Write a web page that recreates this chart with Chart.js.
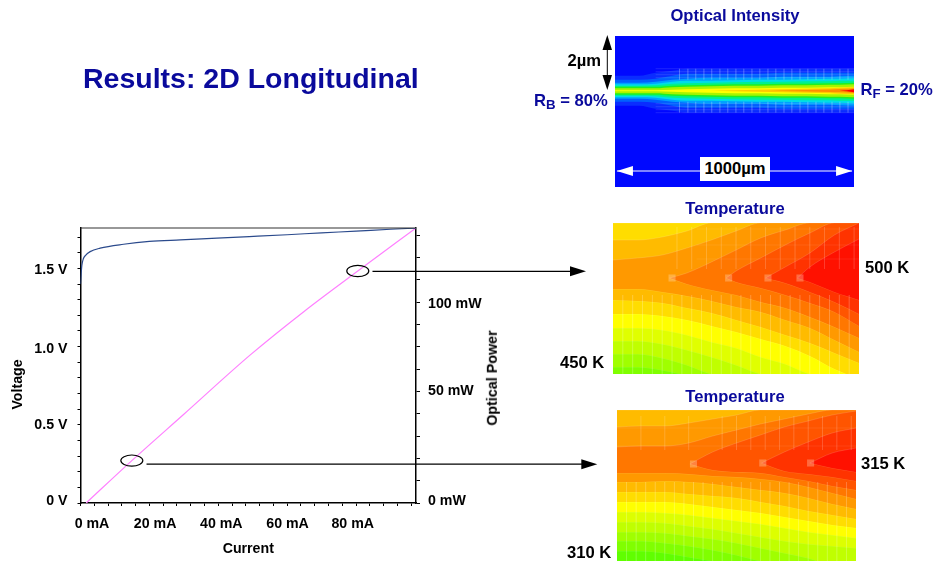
<!DOCTYPE html>
<html><head><meta charset="utf-8">
<script src="https://cdn.jsdelivr.net/npm/chart.js@4"></script>
<style>
html,body{margin:0;padding:0;background:#fff;overflow:hidden}
#page{position:relative;width:937px;height:566px;font-family:"Liberation Sans",Arial,sans-serif;font-weight:bold}
canvas{position:absolute}
.t{position:absolute;white-space:nowrap;line-height:1;transform:translateY(-50%);color:#000;font-size:16.6px}
.b{color:#0A0A9C}
.c{transform:translate(-50%,-50%)}
sub{font-size:.8em;line-height:0;vertical-align:-.28em}
</style></head>
<body><div id="page">
<canvas id="main" width="937" height="566" style="left:0;top:0;width:937px;height:566px"></canvas>
<canvas id="opt" width="239" height="151" style="left:615px;top:36px;width:239px;height:151px"></canvas>
<canvas id="t1" width="246" height="151" style="left:613px;top:223px;width:246px;height:151px"></canvas>
<canvas id="t2" width="239" height="151" style="left:617px;top:410px;width:239px;height:151px"></canvas>

<div class="t b" style="left:83px;top:78px;font-size:28.5px">Results: 2D Longitudinal</div>
<div class="t b c" style="left:735px;top:16px">Optical Intensity</div>
<div class="t b c" style="left:735px;top:209px">Temperature</div>
<div class="t b c" style="left:735px;top:397px">Temperature</div>
<div class="t" style="left:567.5px;top:61px">2µm</div>
<div class="t b" style="left:534px;top:101px">R<sub>B</sub> = 80%</div>
<div class="t b" style="left:860.5px;top:90px">R<sub>F</sub> = 20%</div>
<div class="t c" style="left:735px;top:169px;background:#fff;width:70px;height:24px;line-height:24px;text-align:center">1000µm</div>
<div class="t" style="left:560px;top:363px">450 K</div>
<div class="t" style="left:865px;top:268px">500 K</div>
<div class="t" style="left:567px;top:553px">310 K</div>
<div class="t" style="left:861px;top:464px">315 K</div>
<div class="t c" style="left:492px;top:378px;font-size:14.3px;transform:translate(-50%,-50%) rotate(-90deg)">Optical Power</div>
</div>
<script>
// ---------- L-I-V curves ----------
const voltageCurrent = [0, 0.2, 0.4, 0.8, 1.4, 2.8, 5.7, 12.5, 20, 29, 39.6, 49, 60, 70, 80, 90, 97.4];
const voltageValues  = [1.40, 1.47, 1.52, 1.56, 1.582, 1.607, 1.629, 1.654, 1.672, 1.682, 1.693, 1.703, 1.715, 1.727, 1.738, 1.75, 1.757];
const powerCurrent = [1.65, 14.9, 30, 49.3, 65, 80.5, 97.4];
const powerValues  = [0, 19, 39.8, 66.4, 86, 104, 123.3];
const currentTickLabels = {0:'0 mA', 20:'20 mA', 40:'40 mA', 60:'60 mA', 80:'80 mA'};
const voltageTickLabels = {0:'0 V', 0.5:'0.5 V', 1:'1.0 V', 1.5:'1.5 V'};
const powerTickLabels   = {0:'0 mW', 50:'50 mW', 90:'100 mW'};
const currentLabelNudge = {0:11.5, 20:5.7, 40:3, 60:0.4, 80:-3.3};
const voltageLabelNudge = {0:-2, 0.5:0, 1:3, 1.5:2};
const powerLabelNudge   = {0:-2, 50:0, 90:1.5};
const calloutCurrent = [14.9, 80.5];
const calloutPower   = [19, 104];
const calloutLineDrop = [3.6, 0.3];
const calloutTipX    = [597.3, 586];

// ---------- Optical intensity: half-width of each level around the ridge ----------
const ridgeDepth = 54.7;
const optX = [0, 10, 17, 24, 30, 40, 50, 60, 70, 80, 90, 94, 100];
const optColors = ['#0A2CFF','#0060FF','#00A0FF','#00DCE8','#00F090','#20F020','#A8F400','#FFFF00','#FFC800','#FF8C00','#FF0000'];
const optHalf = [
 [15,15,18,20,22,22,22,22,22,22,22,22,22],
 [11,11,12,15,17,17,17,17,18,18,18,18,18],
 [8,8,9,11,12,13,13,13,14,14,14,14.5,15],
 [6.5,6.5,7,9,10,10,10.5,11,11,11.5,12,12,12.5],
 [5,5,5.5,7,7.5,8,8.5,9,9,9.5,9.5,10,10],
 [4,4,4,5,5.5,6,6.5,6.5,7,7,7.5,7.5,8],
 [2.5,2.5,2.5,3.5,4,4.5,5,5,5.5,5.5,6,6,6.5],
 [0.5,0.5,0.5,1,1.5,2,2.5,2.5,3,3,3.5,3.5,4],
 [0,0,0,0,0,0,0.5,1,1.5,2,2.5,3,3.5],
 [0,0,0,0,0,0,0,0,0.3,0.7,1.2,1.6,2.2],
 [0,0,0,0,0,0,0,0,0,0,0,0,1.5]
];
const optMeshX = [27,30.5,33.8,37.2,40.5,43.9,47.2,50.6,53.9,57.3,60.6,64,67.3,70.7,74,77.4,80.7,84.1,87.4,90.8,94.1,97.5];
const optMeshH = [-22,-19,-16,-13,13,16,19,22];

// ---------- Temperature map 1: contour levels, coolest first ----------
const G = [0,10,20,30,40,50,60,70,80,90,100];
const t1Colors = ['#80FF00','#A0FF00','#C0FF00','#E0FF00','#FFFF00','#FFDD00','#FFBB00','#FF9900','#FF7700','#FF5500','#FF3300','#FF1100'];
const t1X = [[0,100],G,G,G,G,G,G,G,[23,30,40,50,60,70,80,90,100],[46,50,60,70,80,90,100],[62,70,80,90,100],[75,80,90,100]];
const t1Up = [
 [0,0],
 [0,0,0,0,0,0,0,0,0,0,0],[0,0,0,0,0,0,0,0,0,0,0],[0,0,0,0,0,0,0,0,0,0,0],[0,0,0,0,0,0,0,0,0,0,0],[0,0,0,0,0,0,0,0,0,0,0],
 [17,17,14,8,0,0,0,0,0,0,0],
 [37,35,32,25,17,8,0,0,0,0,0],
 [55,50,39,27,15,7,0,0,0],
 [55,48,35,22,10,0,0],
 [55,44,30,12,0],
 [55,44,29,16]
];
const t1Lo = [
 [155,155],
 [144,144,147,152,155,155,155,155,155,155,155],
 [131,131,135,142,151,155,155,155,155,155,155],
 [118,118,121,127,134,142,151,155,155,155,155],
 [105,105,107,112,119,125,134,141,151,155,155],
 [91,91,93,97,103,109,116,123,133,146,156],
 [77,78,80,85,90,97,104,112,120,130,140],
 [66,66,69,73,78,84,89,97,105,117,129],
 [55,61,67,72,79,85,94,104,115],
 [55,59,65,72,80,89,103],
 [55,60,69,79,91],
 [55,59,69,77]
];
const t1MeshX = [4,8,12,16,20,24,28,32,36,40,44,48,52,56,60,64,68,72,76,80,84,88,92,96];
const t1SeamX = [24,47,63,76];
const t1SeamY = [55,55,55,55];

// ---------- Temperature map 2: contour levels, coolest first ----------
const t2Colors = ['#60FF00','#80FF00','#A0FF00','#C0FF00','#DDFF00','#FFFF00','#FFDD00','#FFBB00','#FF9900','#FF7700','#FF5500','#FF3300','#FF1100'];
const t2X = [[0,100],G,G,G,G,G,G,G,G,G,[30.5,40,50,60,70,80,90,100],[60.5,70,80,90,100],[80.7,90,100]];
const t2Up = [
 [0,0],
 [0,0,0,0,0,0,0,0,0,0,0],[0,0,0,0,0,0,0,0,0,0,0],[0,0,0,0,0,0,0,0,0,0,0],[0,0,0,0,0,0,0,0,0,0,0],[0,0,0,0,0,0,0,0,0,0,0],[0,0,0,0,0,0,0,0,0,0,0],
 [0,0,0,0,0,0,0,0,0,0,0],
 [17,16,16,13,9,5,0,0,0,0,0],
 [37,36,36,33,26,20,14,9,4,0,0],
 [54,42,33,25,17,11,5,1],
 [53,42,32,23,18],
 [53,43,38]
];
const t2Lo = [
 [155,155],
 [141,141,143,147,151,155,155,155,155,155,155],
 [131,131,133,136,140,145,151,155,155,155,155],
 [122,122,123,126,129,133,138,143,148,155,155],
 [112,112,113,116,119,123,127,131,134,136,138],
 [102,102,103,105,108,111,114,118,122,125,128],
 [92,92,92,94,97,100,103,107,111,115,118],
 [82,82,82,84,86,88,92,96,101,105,109],
 [72,72,71,72,74,77,80,83,88,94,99],
 [63,63,63,64,66,67,69,72,77,83,89],
 [54,60,62,63,67,71,76,80],
 [53,61,64,67,71],
 [53,58,62]
];
const t2MeshX = [4,8,12,16,20,24,28,32,36,40,44,48,52,56,60,64,68,72,76,80,84,88,92,96];
const t2SeamX = [32,61,81];
const t2SeamY = [54,53,53];

// ---------- helpers ----------
function pts(xs, ys){ return xs.map((x,i)=>({x, y:ys[i]})); }
function levelDatasets(colors, xs, ups, los, edge){
  const out = [];
  for(let i = colors.length-1; i >= 0; i--){   // hottest first: Chart.js paints the last dataset first
    out.push({data:pts(xs[i],ups[i]), fill:'+1', backgroundColor:colors[i], borderColor:edge, borderWidth:i?0.7:0, pointRadius:0, cubicInterpolationMode:'monotone'});
    out.push({data:pts(xs[i],los[i]), fill:false, borderColor:edge, borderWidth:i?0.7:0, pointRadius:0, cubicInterpolationMode:'monotone'});
  }
  return out;
}
function meshSet(vx, y0, y1, hy, x0, x1, color){
  const d = [];
  vx.forEach(x=>{ d.push({x,y:y0},{x,y:y1},{x,y:null}); });
  hy.forEach(y=>{ d.push({x:x0,y},{x:x1,y},{x:x1,y:null}); });
  return {data:d, borderColor:color, borderWidth:1, pointRadius:0, fill:false, spanGaps:false};
}
function seamSet(xs, ys){
  return {data:pts(xs,ys), showLine:false, pointStyle:'rect', pointRadius:5, borderWidth:0, backgroundColor:'rgba(255,235,210,0.3)', fill:false};
}
function heatChart(id, datasets, plugins){
  new Chart(document.getElementById(id), {
    type:'scatter',
    data:{datasets},
    options:{
      animation:false, responsive:false, showLine:true,
      layout:{padding:0, autoPadding:false},
      plugins:{legend:{display:false}, tooltip:{enabled:false}},
      scales:{ x:{type:'linear',display:false,min:0,max:100},
               y:{type:'linear',display:false,min:0,max:151,reverse:true} }
    },
    plugins:plugins||[]
  });
}
function tri(ctx, x0,y0, x1,y1, x2,y2, color){
  ctx.fillStyle=color; ctx.beginPath(); ctx.moveTo(x0,y0); ctx.lineTo(x1,y1); ctx.lineTo(x2,y2); ctx.closePath(); ctx.fill();
}

// ---------- optical map ----------
const optLevels = levelDatasets(
  ['#0008FF'].concat(optColors),
  [[0,100]].concat(optColors.map(()=>optX)),
  [[0,0]].concat(optHalf.map(h=>h.map(v=>ridgeDepth-v))),
  [[155,155]].concat(optHalf.map(h=>h.map(v=>ridgeDepth+v))),
  'rgba(0,0,0,0)'
);
heatChart('opt', [
    meshSet(optMeshX, ridgeDepth-22, ridgeDepth-11, optMeshH.map(h=>ridgeDepth+h), 17, 100, 'rgba(255,255,255,0.11)'),
    meshSet(optMeshX, ridgeDepth+11, ridgeDepth+22, [], 17, 100, 'rgba(255,255,255,0.11)')
  ].concat(optLevels), [{
  id:'widthArrow',
  afterDraw(c){
    const ctx=c.ctx, xs=c.scales.x, ys=c.scales.y;
    const l=xs.getPixelForValue(0.8), r=xs.getPixelForValue(99.2), y=ys.getPixelForValue(135);
    ctx.save();
    ctx.strokeStyle='#fff'; ctx.lineWidth=1; ctx.beginPath(); ctx.moveTo(l,y); ctx.lineTo(r,y); ctx.stroke();
    tri(ctx,l,y,l+16,y-5,l+16,y+5,'#fff');
    tri(ctx,r,y,r-16,y-5,r-16,y+5,'#fff');
    ctx.restore();
  }
}]);

// ---------- temperature maps ----------
heatChart('t1', [seamSet(t1SeamX,t1SeamY), meshSet(t1MeshX, 72, 151, [], 0, 100, 'rgba(255,255,255,0.09)'), meshSet([26,32,38,44,50,56,62,68,74,80,86,92,98], 4, 46, [6,22,36], 34, 100, 'rgba(255,255,255,0.07)')]
  .concat(levelDatasets(t1Colors, t1X, t1Up, t1Lo, 'rgba(255,255,255,0.2)')));
heatChart('t2', [seamSet(t2SeamX,t2SeamY), meshSet(t2MeshX, 72, 151, [], 0, 100, 'rgba(255,255,255,0.09)'), meshSet([10,20,30,44,50,56,62,68,74,80,86,92,98], 6, 40, [18,36], 0, 100, 'rgba(255,255,255,0.07)')]
  .concat(levelDatasets(t2Colors, t2X, t2Up, t2Lo, 'rgba(255,255,255,0.2)')));

// ---------- main chart ----------
function nudge(scale, table, axisIdx){
  scale.getLabelItems(scale.chart.chartArea).forEach((it,i)=>{
    const v = Math.round(scale.ticks[i].value*10)/10;
    if(table[v] !== undefined && !it._n){ it.options.translation[axisIdx] += table[v]; it._n = true; }
  });
}
const scribe = {
  id:'scribe',
  beforeDraw(c){
    nudge(c.scales.x, currentLabelNudge, 0);
    nudge(c.scales.y, voltageLabelNudge, 1);
    nudge(c.scales.y2, powerLabelNudge, 1);
    const s = c.scales.y;
    if(!s._shifted){ const f = s.drawTitle.bind(s); s.drawTitle = ()=>{ c.ctx.save(); c.ctx.translate(0,19); f(); c.ctx.restore(); }; s._shifted = true; }
  },
  afterDraw(c){
    const ctx=c.ctx, a=c.chartArea;
    ctx.save();
    ctx.strokeStyle='#333'; ctx.lineWidth=1.2; ctx.beginPath(); ctx.moveTo(a.left,a.top); ctx.lineTo(a.right,a.top); ctx.stroke();
    ctx.strokeStyle='#000'; ctx.lineWidth=1.2;
    calloutCurrent.forEach((cur,i)=>{
      const x=c.scales.x.getPixelForValue(cur), y=c.scales.y2.getPixelForValue(calloutPower[i]);
      ctx.beginPath(); ctx.ellipse(x,y,11,5.6,0,0,Math.PI*2); ctx.stroke();
      const ly=y+calloutLineDrop[i], tip=calloutTipX[i];
      ctx.beginPath(); ctx.moveTo(x+14.7,ly); ctx.lineTo(tip-14,ly); ctx.stroke();
      tri(ctx,tip,ly,tip-16,ly-5,tip-16,ly+5,'#000');
    });
    // 2 µm height arrow beside the optical map
    ctx.lineWidth=1; ctx.beginPath(); ctx.moveTo(607.3,40); ctx.lineTo(607.3,85); ctx.stroke();
    tri(ctx,607.3,35,602.5,50,612,50,'#000');
    tri(ctx,607.3,90,602.5,75,612,75,'#000');
    ctx.restore();
  }
};
const tickFont = {family:'"Liberation Sans", Arial, sans-serif', weight:'bold', size:14.2};
new Chart(document.getElementById('main'), {
  type:'scatter',
  data:{datasets:[
    {label:'Voltage', data:pts(voltageCurrent,voltageValues), yAxisID:'y', borderColor:'#2B4A8C', borderWidth:1.2, pointRadius:0, showLine:true, cubicInterpolationMode:'monotone'},
    {label:'Optical Power', data:pts(powerCurrent,powerValues), yAxisID:'y2', borderColor:'#FF80FF', borderWidth:1.2, pointRadius:0, showLine:true, cubicInterpolationMode:'monotone'}
  ]},
  options:{
    animation:false, responsive:false,
    layout:{padding:{left:10, right:0, top:228, bottom:8}},
    plugins:{legend:{display:false}, tooltip:{enabled:false}},
    scales:{
      x:{type:'linear', min:0, max:97.4,
        border:{color:'#000',width:1.5},
        grid:{drawOnChartArea:false, drawTicks:true, tickLength:3, tickColor:'#000'},
        ticks:{stepSize:4, includeBounds:false, autoSkip:false, maxRotation:0, padding:10, color:'#000', font:tickFont,
               callback:v=>currentTickLabels[v]||''},
        title:{display:true, text:'Current', color:'#000', font:tickFont, padding:0},
        afterFit(s){ s.height=55; }
      },
      y:{type:'linear', position:'left', min:0, max:1.758,
        border:{color:'#000',width:1.5},
        grid:{drawOnChartArea:false, drawTicks:true, tickLength:3, tickColor:'#000'},
        ticks:{stepSize:0.1, includeBounds:false, autoSkip:false, padding:10, color:'#000', font:tickFont,
               callback:v=>voltageTickLabels[Math.round(v*10)/10]||''},
        title:{display:true, text:'Voltage', color:'#000', font:tickFont, padding:0},
        afterFit(s){ s.width=70.5; }
      },
      y2:{type:'linear', position:'right', min:0, max:123.3,
        border:{color:'#000',width:1.5},
        grid:{drawOnChartArea:false, drawTicks:true, tickLength:4, tickColor:'#000'},
        ticks:{stepSize:10, includeBounds:false, autoSkip:false, padding:8, color:'#000', font:tickFont,
               callback:v=>powerTickLabels[v]||''},
        afterFit(s){ s.width=521; }
      }
    }
  },
  plugins:[scribe]
});
</script>
</body></html>
